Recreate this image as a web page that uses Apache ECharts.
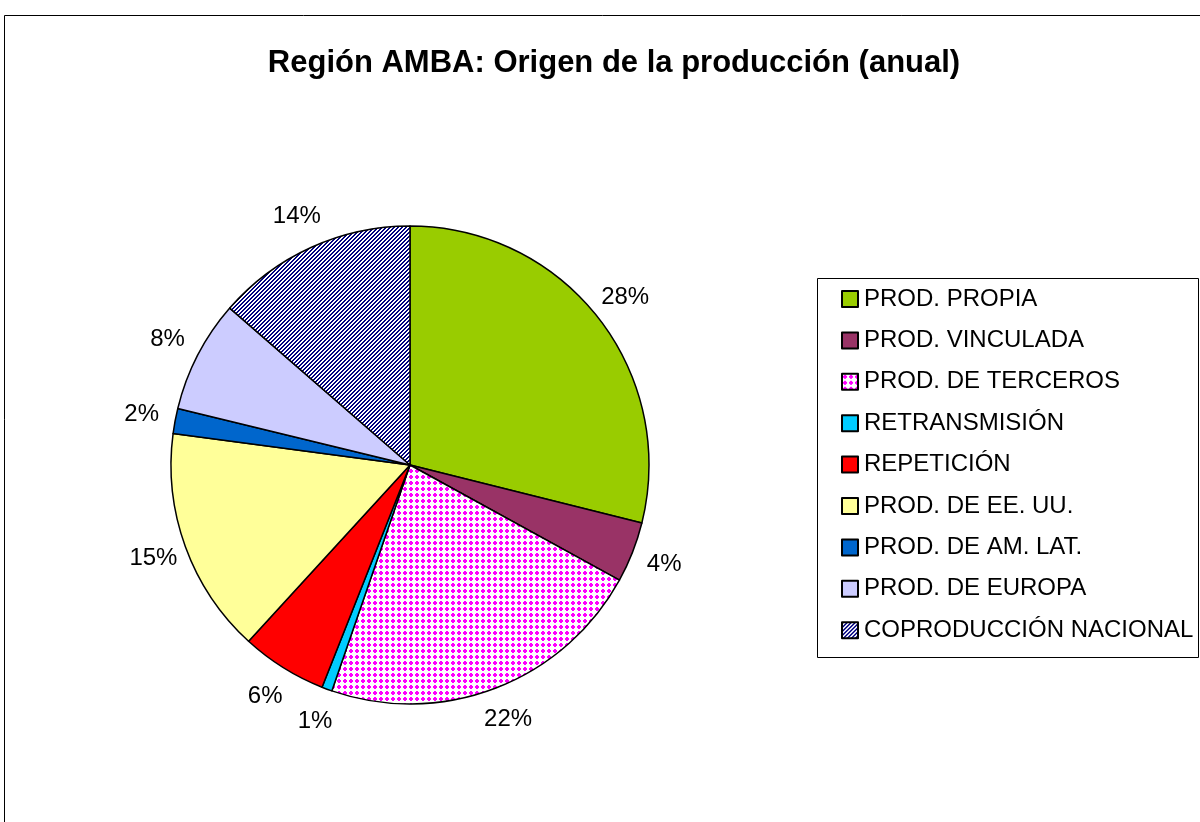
<!DOCTYPE html>
<html>
<head>
<meta charset="utf-8">
<script src="https://cdn.jsdelivr.net/npm/echarts@6/dist/echarts.min.js"></script>
<style>
    html, body { margin: 0; padding: 0; background: #fff; }
    #chartmain { width: 1200px; height: 822px; }
</style>
</head>
<body>
<div id="chartmain"></div>
<script>
// categorias y valores (porcentaje del año)
var categories = ['PROD. PROPIA', 'PROD. VINCULADA', 'PROD. DE TERCEROS', 'RETRANSMISIÓN', 'REPETICIÓN',
    'PROD. DE EE. UU.', 'PROD. DE AM. LAT.', 'PROD. DE EUROPA', 'COPRODUCCIÓN NACIONAL'];
var shares = [28.9, 4.1, 22.3, 0.7, 5.8, 15.3, 1.7, 7.6, 13.6];
var pctLabels = ['28%', '4%', '22%', '1%', '6%', '15%', '2%', '8%', '14%'];

var fontFam = '"Liberation Sans", Arial, sans-serif';

// tramas (puntos magenta / rayas azules)
function makeTile(size, draw) {
    var c = document.createElement('canvas');
    c.width = size;
    c.height = size;
    var ctx = c.getContext('2d');
    ctx.fillStyle = '#ffffff';
    ctx.fillRect(0, 0, size, size);
    draw(ctx, size);
    return c;
}
var dotsTile = makeTile(6, function (ctx) {
    ctx.fillStyle = '#ff00ff';
    ctx.fillRect(1, 2, 4, 2);
    ctx.fillRect(2, 1, 2, 4);
});
var stripeTile = makeTile(4, function (ctx, size) {
    ctx.fillStyle = '#000080';
    for (var x = 0; x < size; x++) {
        for (var y = 0; y < size; y++) {
            if ((x + y) % 4 < 2) ctx.fillRect(x, y, 1, 1);
        }
    }
});

var colors = ['#99cc00', '#993366', { image: dotsTile, repeat: 'repeat' }, '#00ccff', '#ff0000',
    '#ffff99', '#0066cc', '#ccccff', { image: stripeTile, repeat: 'repeat' }];

var pieData = [];
for (let i = 0; i < categories.length; i++) {
    pieData.push({
        name: categories[i],
        value: shares[i],
        itemStyle: { color: colors[i] }
    });
}

// etiqueta centrada sobre la bisectriz, a cierta distancia del borde
var labelGap = 34;
function centerLabel(params) {
    var pts = params.labelLinePoints;
    if (!pts || pts.length < 2) return {};
    var dx = pts[1][0] - pts[0][0];
    var dy = pts[1][1] - pts[0][1];
    var len = Math.sqrt(dx * dx + dy * dy) || 1;
    return {
        x: pts[0][0] + dx / len * labelGap,
        y: pts[0][1] + dy / len * labelGap,
        align: 'center',
        verticalAlign: 'middle'
    };
}

var myChart = echarts.init(document.getElementById('chartmain'));
var option = {
    animation: false,
    backgroundColor: '#ffffff',
    title: {
        text: 'Región AMBA: Origen de la producción (anual)',
        left: 614,
        textAlign: 'center',
        top: 48,
        padding: 0,
        textStyle: {
            fontFamily: fontFam,
            fontSize: 31,
            fontWeight: 'bold',
            color: '#000'
        }
    },
    graphic: [
        {
            type: 'rect',
            silent: true,
            shape: { x: 4.5, y: 15.5, width: 1300, height: 900 },
            style: { fill: 'none', stroke: '#000', lineWidth: 1 }
        },
        {
            type: 'rect',
            silent: true,
            shape: { x: 817.5, y: 278.5, width: 381, height: 379 },
            style: { fill: 'none', stroke: '#000', lineWidth: 1 }
        }
    ],
    legend: {
        orient: 'vertical',
        left: 841,
        top: 287,
        padding: 0,
        itemWidth: 16,
        itemHeight: 16,
        itemGap: 17.4,
        icon: 'rect',
        selectedMode: false,
        textStyle: {
            fontFamily: fontFam,
            fontSize: 24,
            lineHeight: 24,
            color: '#000',
            padding: [0, 0, 0, 1]
        },
        data: categories
    },
    series: [{
        type: 'pie',
        center: [410, 465],
        radius: 239,
        startAngle: 90,
        clockwise: true,
        avoidLabelOverlap: false,
        emphasis: { disabled: true },
        itemStyle: {
            borderColor: '#000',
            borderWidth: 1.5
        },
        label: {
            show: true,
            position: 'outside',
            fontFamily: fontFam,
            fontSize: 24,
            color: '#000',
            formatter: function (params) {
                return pctLabels[params.dataIndex];
            }
        },
        labelLine: {
            show: true,
            length: 14,
            length2: 4,
            lineStyle: { width: 0, opacity: 0 }
        },
        labelLayout: centerLabel,
        data: pieData
    }]
};
myChart.setOption(option);
</script>
</body>
</html>
